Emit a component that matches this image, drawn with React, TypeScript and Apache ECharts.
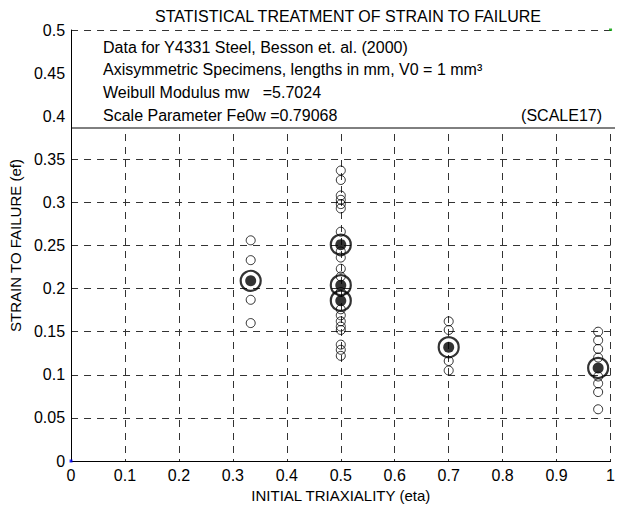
import React, { useEffect, useRef } from "react";
import * as echarts from "echarts";

const TITLE = "STATISTICAL TREATMENT OF STRAIN TO FAILURE";
const X_NAME = "INITIAL TRIAXIALITY (eta)";
const Y_NAME = "STRAIN TO FAILURE (ef)";
const INFO_LINES = [
  "Data for Y4331 Steel, Besson et. al. (2000)",
  "Axisymmetric Specimens, lengths in mm, V0 = 1 mm\u00b3",
  "Weibull Modulus mw\u00a0\u00a0\u00a0=5.7024",
  "Scale Parameter Fe0w =0.79068",
];
const INFO_TAG = "(SCALE17)";

// individual specimens (open circles), grouped by initial triaxiality
const TRIAX = [0.333, 0.5, 0.7, 0.977];
const STRAIN_T033 = [0.256, 0.233, 0.187, 0.16];
const STRAIN_T050 = [
  0.337, 0.326, 0.308, 0.303, 0.298, 0.293, 0.266, 0.243, 0.236, 0.223, 0.214,
  0.196, 0.176, 0.169, 0.162, 0.156, 0.152, 0.135, 0.129, 0.122,
];
const STRAIN_T070 = [0.162, 0.152, 0.116, 0.105];
const STRAIN_T098 = [0.15, 0.14, 0.13, 0.12, 0.098, 0.09, 0.08, 0.06];
const STRAINS = [STRAIN_T033, STRAIN_T050, STRAIN_T070, STRAIN_T098];

// group means (filled dots with large rings)
const MEAN_X = [0.333, 0.5, 0.5, 0.5, 0.7, 0.977];
const MEAN_Y = [0.209, 0.251, 0.204, 0.186, 0.132, 0.108];

// axis limit markers
const LIMIT_X = [0, 1];
const LIMIT_Y = [0, 0.5];
const LIMIT_COLORS = ["#0000ff", "#00a000"];

const W = 618;
const H = 508;
const G_LEFT = 71;
const G_TOP = 30;
const G_RIGHT = 3;
const G_BOTTOM = 47;
const BOX_BOTTOM = 128;
const FONT = "'Liberation Sans', Arial, Helvetica, sans-serif";
const TXT = 16;

const fmt = (v: number) => String(parseFloat(v.toFixed(3)));

export default function App() {
  const ref = useRef<HTMLDivElement>(null);
  useEffect(() => {
    document.body.style.margin = "0";
    const chart = echarts.init(ref.current!, null, { renderer: "svg" });
    const openData: number[][] = [];
    TRIAX.forEach((x, i) => STRAINS[i].forEach((y) => openData.push([x, y])));
    const meanData = MEAN_X.map((x, i) => [x, MEAN_Y[i]]);
    const limitData = LIMIT_X.map((x, i) => ({
      value: [x, LIMIT_Y[i]],
      itemStyle: { color: LIMIT_COLORS[i] },
    }));
    const plotRight = W - G_RIGHT;
    const plotW = plotRight - G_LEFT;

    chart.setOption({
      animation: false,
      backgroundColor: "#ffffff",
      textStyle: { fontFamily: FONT },
      title: {
        text: TITLE,
        left: G_LEFT + plotW / 2,
        textAlign: "center",
        top: 3,
        textStyle: { fontSize: 16, fontWeight: "normal", color: "#000", fontFamily: FONT },
      },
      grid: { left: G_LEFT, top: G_TOP, right: G_RIGHT, bottom: G_BOTTOM, containLabel: false },
      xAxis: {
        type: "value",
        min: 0,
        max: 1,
        interval: 0.1,
        name: X_NAME,
        nameLocation: "middle",
        nameGap: 26,
        nameTextStyle: { fontSize: 15, color: "#000", fontFamily: FONT },
        axisLine: { show: true, lineStyle: { color: "#000", width: 1 } },
        axisTick: { show: false },
        axisLabel: { fontSize: TXT, color: "#000", margin: 6, formatter: fmt, fontFamily: FONT },
        splitLine: { show: true, lineStyle: { color: "#333", width: 1, type: [7, 6] } },
      },
      yAxis: {
        type: "value",
        min: 0,
        max: 0.5,
        interval: 0.05,
        name: Y_NAME,
        nameLocation: "middle",
        nameGap: 48,
        nameRotate: 90,
        nameTextStyle: { fontSize: 15, color: "#000", fontFamily: FONT },
        axisLine: { show: true, lineStyle: { color: "#000", width: 1 } },
        axisTick: { show: false },
        axisLabel: { fontSize: TXT, color: "#000", margin: 6, formatter: fmt, fontFamily: FONT },
        splitLine: { show: true, lineStyle: { color: "#333", width: 1, type: [7, 6] } },
      },
      series: [
        {
          name: "specimens",
          type: "scatter",
          symbol: "circle",
          symbolSize: 9,
          data: openData,
          itemStyle: { color: "rgba(255,255,255,0)", borderColor: "#000", borderWidth: 1 },
          z: 3,
        },
        {
          name: "ring",
          type: "scatter",
          symbol: "circle",
          symbolSize: 20,
          data: meanData,
          itemStyle: { color: "rgba(255,255,255,0)", borderColor: "#000", borderWidth: 2.2 },
          z: 4,
        },
        {
          name: "mean",
          type: "scatter",
          symbol: "circle",
          symbolSize: 11,
          data: meanData,
          itemStyle: { color: "#000" },
          z: 5,
        },
        {
          name: "limits",
          type: "scatter",
          symbol: "rect",
          symbolSize: 3,
          data: limitData,
          z: 6,
        },
      ],
      graphic: [
        {
          type: "rect",
          z: 10,
          shape: { x: G_LEFT + 1, y: G_TOP + 1, width: plotW - 2, height: BOX_BOTTOM - G_TOP - 1 },
          style: { fill: "#fff" },
        },
        {
          type: "line",
          z: 11,
          shape: { x1: G_LEFT, y1: BOX_BOTTOM, x2: plotRight, y2: BOX_BOTTOM },
          style: { stroke: "#000", lineWidth: 1 },
        },
        ...INFO_LINES.map((t, i) => ({
          type: "text",
          z: 12,
          x: 103,
          y: 47 + i * 22.7,
          style: {
            text: t,
            fill: "#000",
            font: `${TXT}px ${FONT}`,
            textVerticalAlign: "middle",
            verticalAlign: "middle",
          },
        })),
        {
          type: "text",
          z: 12,
          x: 602,
          y: 115,
          style: {
            text: INFO_TAG,
            fill: "#000",
            font: `${TXT}px ${FONT}`,
            textAlign: "right",
            align: "right",
            verticalAlign: "middle",
            textVerticalAlign: "middle",
          },
        },
      ],
    });
    return () => chart.dispose();
  }, []);
  return <div ref={ref} style={{ position: "fixed", left: 0, top: 0, width: W, height: H }} />;
}
